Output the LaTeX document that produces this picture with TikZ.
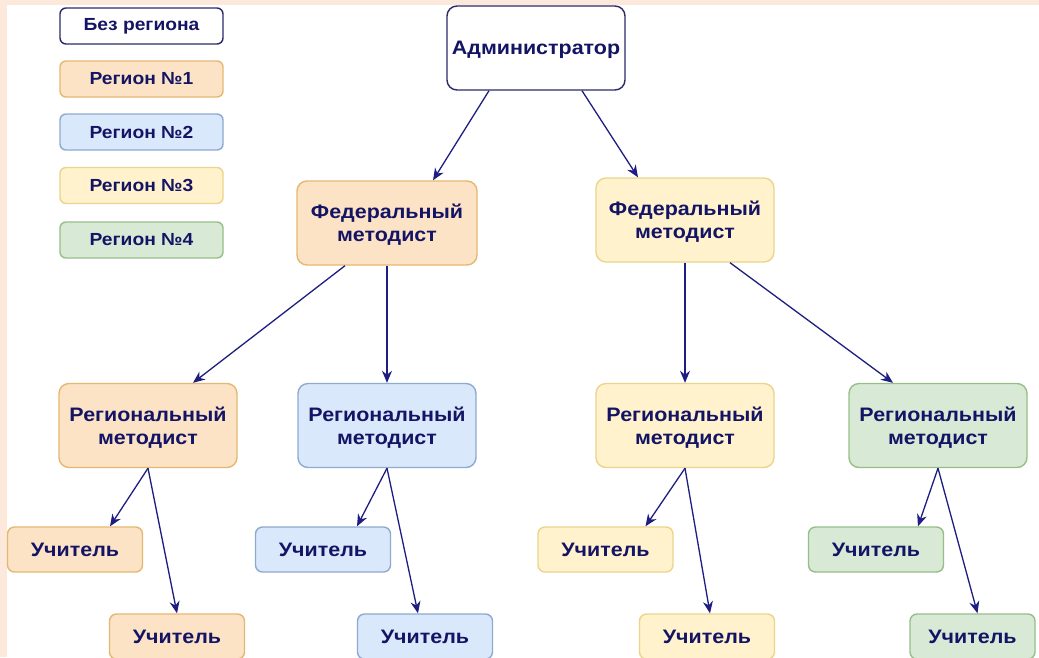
\documentclass[tikz,border=0pt]{standalone}
\usepackage{fontspec}
\setmainfont{Liberation Sans}[FakeStretch=1.1]
\usetikzlibrary{arrows.meta}
\definecolor{bgpeach}{HTML}{FDE9DC}
\definecolor{txt}{RGB}{20,20,100}
\definecolor{arr}{RGB}{30,30,130}
\definecolor{fillA}{HTML}{FDE3C6}\definecolor{drawA}{HTML}{E5B872}
\definecolor{fillB}{HTML}{DAE8FC}\definecolor{drawB}{HTML}{8FA9CF}
\definecolor{fillC}{HTML}{FFF2CC}\definecolor{drawC}{HTML}{EBD48C}
\definecolor{fillD}{HTML}{D8EAD6}\definecolor{drawD}{HTML}{98BE88}
\definecolor{drawN}{HTML}{2A2A6A}
\tikzset{
  box/.style={rounded corners=10pt, line width=1.4pt, align=center, text=txt, text depth=0pt,
    font=\fontsize{19.5}{23}\selectfont\bfseries, minimum width=178pt, minimum height=84pt, inner sep=0pt},
  tbox/.style={rounded corners=7pt, line width=1.4pt, align=center, text=txt,
    font=\fontsize{19.5}{23}\selectfont\bfseries, minimum width=135pt, minimum height=45pt, inner sep=0pt},
  lbox/.style={rounded corners=6pt, line width=1.4pt, align=center, text=txt,
    font=\fontsize{17.5}{20}\selectfont\bfseries, minimum width=163pt, minimum height=36pt, inner sep=0pt},
  rA/.style={fill=fillA, draw=drawA},
  rB/.style={fill=fillB, draw=drawB},
  rC/.style={fill=fillC, draw=drawC},
  rD/.style={fill=fillD, draw=drawD},
  rN/.style={fill=white, draw=drawN},
  link/.style={draw=arr, line width=1.3pt, -{Stealth[length=12pt,width=10pt]}},
}
\begin{document}
\begin{tikzpicture}[x=1pt,y=-1pt]
\useasboundingbox (0,0) rectangle (1039,657);
\clip (0,0) rectangle (1039,657);
\fill[bgpeach] (0,0) rectangle (1039,657);
\fill[white] (7,5) rectangle (1039,657);
% legend
\node[lbox,rN] (l0) at (141.5,26) {Без региона};
\node[lbox,rA] (l1) at (141.5,79) {Регион №1};
\node[lbox,rB] (l2) at (141.5,132) {Регион №2};
\node[lbox,rC] (l3) at (141.5,185.5) {Регион №3};
\node[lbox,rD] (l4) at (141.5,240) {Регион №4};
% tree
\node[box,rN] (adm) at (536,48) {Администратор};
\node[box,rA,minimum width=180pt] (f1) at (387,223) {Федеральный\\методист};
\node[box,rC] (f2) at (685,220) {Федеральный\\методист};
\node[box,rA] (r1) at (148,425.5) {Региональный\\методист};
\node[box,rB] (r2) at (387,425.5) {Региональный\\методист};
\node[box,rC] (r3) at (685,425.5) {Региональный\\методист};
\node[box,rD] (r4) at (938,425.5) {Региональный\\методист};
\node[tbox,rA] (t1a) at (75,549.5) {Учитель};
\node[tbox,rA] (t1b) at (177,636.5) {Учитель};
\node[tbox,rB] (t2a) at (323,549.5) {Учитель};
\node[tbox,rB] (t2b) at (425,636.5) {Учитель};
\node[tbox,rC] (t3a) at (605.5,549.5) {Учитель};
\node[tbox,rC] (t3b) at (707,636.5) {Учитель};
\node[tbox,rD] (t4a) at (876,549.5) {Учитель};
\node[tbox,rD,minimum width=125pt] (t4b) at (972.5,636.5) {Учитель};
% connectors
\draw[link] ([xshift=-47pt]adm.south) -- ([xshift=46pt]f1.north);
\draw[link] ([xshift=46pt]adm.south) -- ([xshift=-47pt]f2.north);
\draw[link] ([xshift=-42pt]f1.south) -- ([xshift=45pt]r1.north);
\draw[link] (f1.south) -- (r2.north);
\draw[link] (f2.south) -- (r3.north);
\draw[link] ([xshift=45pt]f2.south) -- ([xshift=-45pt]r4.north);
\draw[link] (r1.south) -- ([xshift=35pt]t1a.north);
\draw[link] (r1.south) -- (t1b.north);
\draw[link] (r2.south) -- ([xshift=34pt]t2a.north);
\draw[link] (r2.south) -- ([xshift=-7pt]t2b.north);
\draw[link] (r3.south) -- ([xshift=40pt]t3a.north);
\draw[link] (r3.south) -- ([xshift=3pt]t3b.north);
\draw[link] (r4.south) -- ([xshift=42pt]t4a.north);
\draw[link] (r4.south) -- ([xshift=5pt]t4b.north);
\end{tikzpicture}
\end{document}
